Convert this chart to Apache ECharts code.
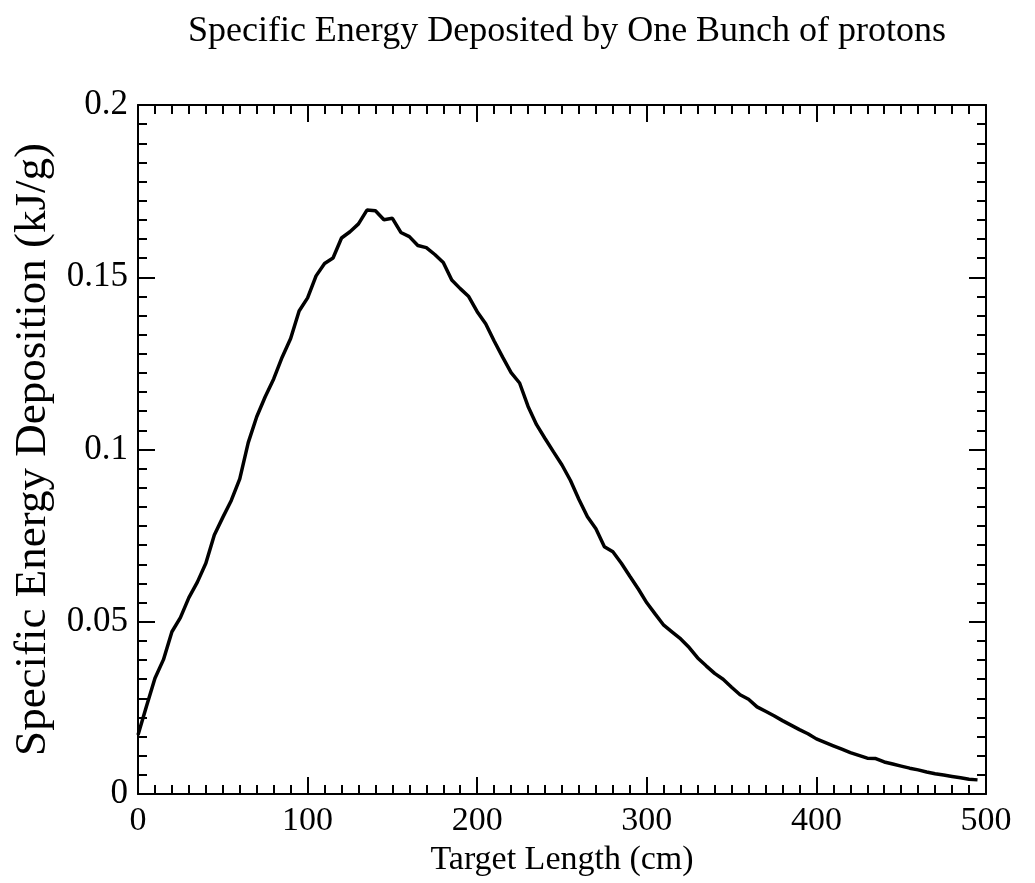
<!DOCTYPE html>
<html>
<head>
<meta charset="utf-8">
<script src="https://cdn.jsdelivr.net/npm/echarts@6/dist/echarts.min.js"></script>
<style>
html,body{margin:0;padding:0;background:#fff;}
#chart{width:1035px;height:883px;}
</style>
</head>
<body>
<div id="chart"></div>
<script>
var targetLength = [0,5,10,15,20,25,30,35,40,45,50,55,60,65,70,75,80,85,90,95,
  100,105,110,115,120,125,130,135,140,145,150,155,160,165,170,175,180,185,190,195,
  200,205,210,215,220,225,230,235,240,245,250,255,260,265,270,275,280,285,290,295,
  300,305,310,315,320,325,330,335,340,345,350,355,360,365,370,375,380,385,390,395,
  400,405,410,415,420,425,430,435,440,445,450,455,460,465,470,475,480,485,490,495];
var energy = [0.0171,0.0255,0.0336,0.0390,0.0471,0.0512,0.0570,0.0615,0.0670,0.0752,
  0.0803,0.0852,0.0915,0.1020,0.1095,0.1153,0.1205,0.1268,0.1322,0.1402,
  0.1440,0.1504,0.1540,0.1556,0.1614,0.1632,0.1655,0.1695,0.1693,0.1667,
  0.1671,0.1630,0.1618,0.1592,0.1586,0.1566,0.1543,0.1492,0.1467,0.1444,
  0.1400,0.1365,0.1315,0.1268,0.1223,0.1193,0.1125,0.1072,0.1032,0.0993,
  0.0955,0.0910,0.0855,0.0805,0.0770,0.0718,0.0703,0.0670,0.0632,0.0595,
  0.0555,0.0522,0.0490,0.0470,0.0450,0.0425,0.0395,0.0372,0.0350,0.0333,
  0.0310,0.0288,0.0275,0.0253,0.0240,0.0227,0.0213,0.0200,0.0187,0.0175,
  0.0160,0.0150,0.0140,0.0130,0.0120,0.0112,0.0104,0.0103,0.0093,0.0087,
  0.0081,0.0075,0.0070,0.0064,0.0059,0.0055,0.0051,0.0047,0.0043,0.0041];
var xTickLabels = ['0','100','200','300','400','500'];
var yTickLabels = ['0','0.05','0.1','0.15','0.2'];

var FONT = '"Liberation Serif", "DejaVu Serif", serif';
var seriesData = targetLength.map(function(x, i){ return [x, energy[i]]; });

function xAxisBase(show){
  return {
    type:'value', min:0, max:500, interval:100,
    axisLine:{show:true, onZero:false, lineStyle:{color:'#000', width:2}},
    axisTick:{show:true, inside:true, length:17, lineStyle:{color:'#000', width:2}},
    minorTick:{show:true, splitNumber:10, length:9, lineStyle:{color:'#000', width:2}},
    splitLine:{show:false},
    axisLabel:{show:show, margin:10, color:'#000', fontFamily:FONT, fontSize:34,
      formatter:function(v){ return xTickLabels[Math.round(v/100)]; }}
  };
}
function yAxisBase(show){
  return {
    type:'value', min:0, max:0.2, interval:0.05,
    axisLine:{show:true, onZero:false, lineStyle:{color:'#000', width:2}},
    axisTick:{show:true, inside:true, length:17, lineStyle:{color:'#000', width:2}},
    minorTick:{show:true, splitNumber:9, length:9, lineStyle:{color:'#000', width:2}},
    splitLine:{show:false},
    axisLabel:{show:show, margin:10, color:'#000', fontFamily:FONT, fontSize:35,
      formatter:function(v){ return yTickLabels[Math.round(v/0.05)]; }}
  };
}

var xb = xAxisBase(true);
xb.position = 'bottom';
xb.name = 'Target Length (cm)';
xb.nameLocation = 'middle';
xb.nameGap = 48;
xb.nameTextStyle = {color:'#000', fontFamily:FONT, fontSize:34};
var xt = xAxisBase(false);
xt.position = 'top';

var yl = yAxisBase(true);
yl.position = 'left';
yl.name = 'Specific Energy Deposition (kJ/g)';
yl.nameLocation = 'middle';
yl.nameGap = 73;
yl.nameTextStyle = {color:'#000', fontFamily:FONT, fontSize:45};
var yr = yAxisBase(false);
yr.position = 'right';

var chart = echarts.init(document.getElementById('chart'), null, {renderer:'canvas'});
chart.setOption({
  animation:false,
  backgroundColor:'#fff',
  title:{
    text:'Specific Energy Deposited by One Bunch of protons',
    left:562, top:9, textAlign:'center',
    textStyle:{color:'#000', fontFamily:FONT, fontSize:36, fontWeight:'normal'}
  },
  grid:{left:138, right:49, top:105, bottom:89, containLabel:false},
  xAxis:[xb, xt],
  yAxis:[yl, yr],
  series:[{
    type:'line', xAxisIndex:0, yAxisIndex:0,
    data:seriesData, showSymbol:false, smooth:false,
    lineStyle:{color:'#000', width:3.5}
  }]
});
</script>
</body>
</html>
